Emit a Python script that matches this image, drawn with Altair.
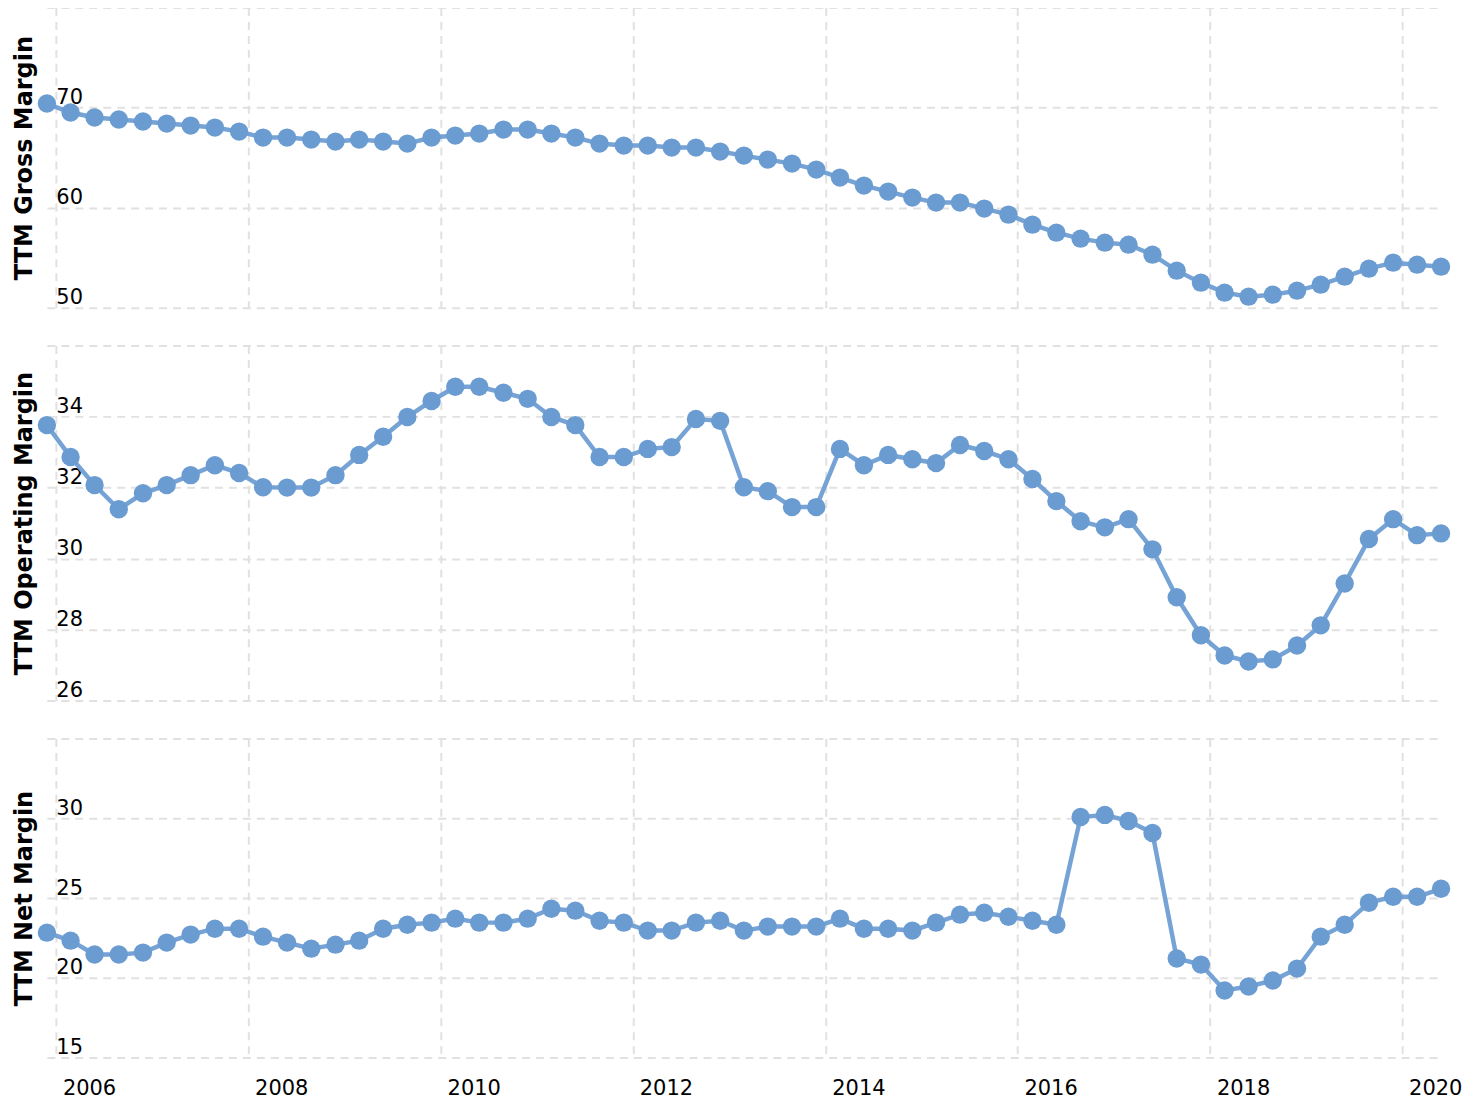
import altair as alt
import pandas as pd

# Quarter-end dates, 2005-12-31 .. 2020-06-30 (59 quarters)
quarter_ends = []
for yr in range(2005, 2021):
    for md in ["03-31", "06-30", "09-30", "12-31"]:
        d = f"{yr}-{md}"
        if "2005-12-31" <= d <= "2020-06-30":
            quarter_ends.append(d)

gross_margin = [70.4, 69.5, 69.0, 68.8, 68.6, 68.4, 68.2, 68.0, 67.6, 67.0,
                67.0, 66.8, 66.6, 66.8, 66.6, 66.4, 67.0, 67.2, 67.4, 67.8,
                67.8, 67.4, 67.0, 66.4, 66.2, 66.2, 66.0, 66.0, 65.6, 65.2,
                64.8, 64.4, 63.8, 63.0, 62.2, 61.6, 61.0, 60.5, 60.5, 59.9,
                59.3, 58.3, 57.5, 56.9, 56.5, 56.3, 55.3, 53.7, 52.5, 51.5,
                51.1, 51.3, 51.7, 52.3, 53.1, 53.9, 54.5, 54.3, 54.1]

operating_margin = [33.76, 32.86, 32.07, 31.39, 31.84, 32.07, 32.35, 32.63, 32.41, 32.01,
                    32.00, 32.00, 32.35, 32.92, 33.43, 33.99, 34.44, 34.84, 34.84, 34.67,
                    34.50, 33.99, 33.76, 32.86, 32.86, 33.09, 33.14, 33.93, 33.88, 32.01,
                    31.90, 31.45, 31.45, 33.09, 32.63, 32.92, 32.80, 32.69, 33.20, 33.03,
                    32.80, 32.24, 31.62, 31.05, 30.88, 31.11, 30.26, 28.91, 27.84, 27.27,
                    27.10, 27.16, 27.55, 28.12, 29.30, 30.55, 31.11, 30.66, 30.71]

net_margin = [22.83, 22.33, 21.46, 21.46, 21.58, 22.21, 22.71, 23.08, 23.08, 22.58,
              22.21, 21.83, 22.08, 22.33, 23.08, 23.33, 23.46, 23.71, 23.46, 23.46,
              23.71, 24.33, 24.21, 23.58, 23.46, 22.96, 22.96, 23.46, 23.58, 22.96,
              23.21, 23.21, 23.21, 23.71, 23.08, 23.08, 22.96, 23.46, 23.96, 24.08,
              23.83, 23.58, 23.33, 30.08, 30.21, 29.83, 29.08, 21.21, 20.83, 19.21,
              19.46, 19.83, 20.58, 22.58, 23.33, 24.71, 25.08, 25.08, 25.58]

year_ticks = [2006, 2008, 2010, 2012, 2014, 2016, 2018, 2020]
gross_ticks = [50, 60, 70, 80]
oper_ticks = [26, 28, 30, 32, 34, 36]
net_ticks = [15, 20, 25, 30, 35]

df = pd.DataFrame({
    "date": quarter_ends,
    "gross": gross_margin,
    "oper": operating_margin,
    "net": net_margin,
})

BLUE = "#6a9bd1"
GRID = "#e1e1e1"
FONT = "DejaVu Sans"
W = 1398

x_domain = [alt.DateTime(year=2005, month=12, date=31, utc=True),
            alt.DateTime(year=2020, month=6, date=30, utc=True)]
x_values = [alt.DateTime(year=y, month=2, date=4, utc=True) for y in year_ticks]


def x_axis(show_labels):
    return alt.Axis(
        values=x_values, title=None, grid=True, gridDash=[8, 6], gridColor=GRID,
        gridWidth=2, domain=False, ticks=False, labels=show_labels,
        labelExpr="utcFormat(datum.value, '%Y')", labelFont=FONT, labelFontSize=21,
        labelColor="#000000", labelOffset=33, labelPadding=20, labelFlush=False,
        labelOverlap=False,
    )


def panel(field, title, dom, ticks, h, show_x):
    top = ticks[-1]
    base = alt.Chart(df).encode(
        x=alt.X("date:T", scale=alt.Scale(domain=x_domain, nice=False),
                axis=x_axis(show_x)),
        y=alt.Y(f"{field}:Q",
                scale=alt.Scale(domain=dom, nice=False, zero=False),
                axis=alt.Axis(
                    values=ticks, title=title, grid=True, gridDash=[8, 6],
                    gridColor=GRID, gridWidth=2, domain=False, ticks=False,
                    labelExpr=f"datum.value == {top} ? '' : datum.label",
                    labelFontSize={"condition": {"test": f"datum.value == {top}", "value": 0},
                                   "value": 21},
                    labelAlign="left", labelBaseline="alphabetic",
                    labelPadding=-9, labelOffset=-4, labelFont=FONT,
                    labelColor="#000000", labelOverlap=False,
                    labelFlush=False,
                    titleFont=FONT, titleFontSize=24, titleFontWeight="bold",
                    titleColor="#000000", titleX=-15, titleBaseline="alphabetic",
                )),
    )
    line = base.mark_line(color=BLUE, strokeWidth=4.5, opacity=0.92)
    pts = base.mark_circle(color=BLUE, size=340, opacity=1)
    return alt.layer(line, pts).properties(width=W, height=h)


p1 = panel("gross", "TTM Gross Margin", [50, 80], gross_ticks, 301, False)
p2 = panel("oper", "TTM Operating Margin", [26, 36], oper_ticks, 356, False)
p3 = panel("net", "TTM Net Margin", [15, 35], net_ticks, 320, True)

chart = alt.vconcat(p1, p2, p3, spacing=38, bounds="flush").properties(
    padding={"left": 5, "top": -6, "right": 0, "bottom": 0},
    background="white",
).configure_view(stroke=None)

chart.save("out.html", embed_options={"renderer": "svg", "actions": False})
